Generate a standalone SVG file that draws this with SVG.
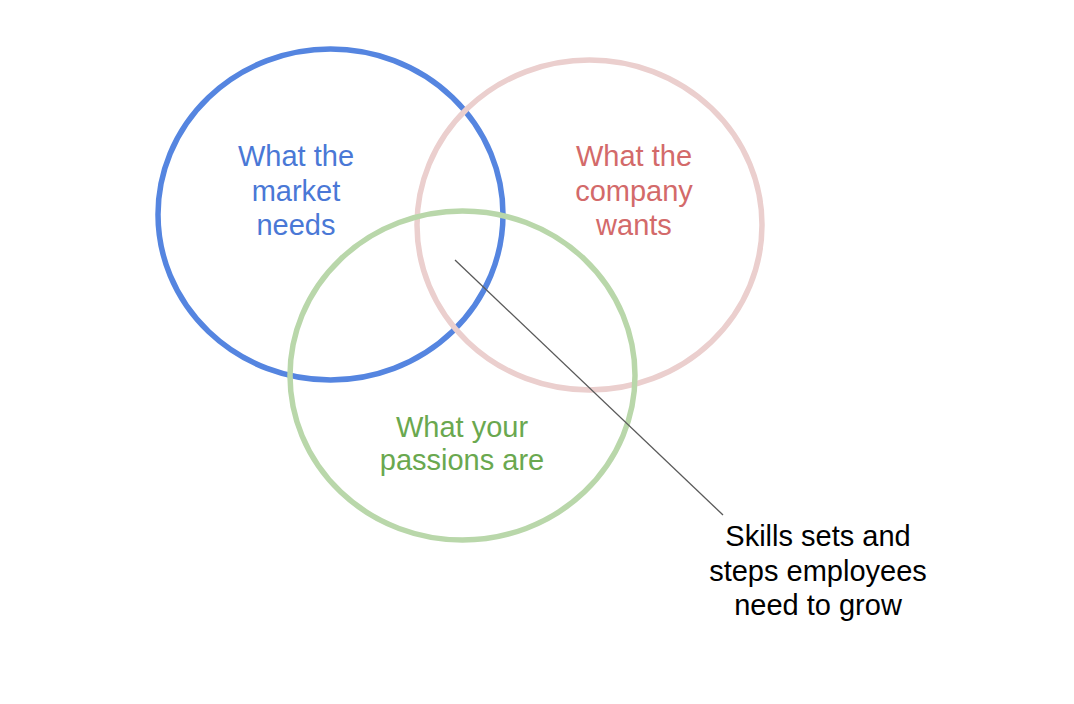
<svg xmlns="http://www.w3.org/2000/svg" width="1074" height="704" viewBox="0 0 1074 704">
  <style>
    .ring { fill: none; stroke-width: 5.5; }
    .lbl { font-family: "Liberation Sans", Arial, sans-serif; font-size: 29px; text-anchor: middle; }
    .conn { stroke: #595959; stroke-width: 1.3; fill: none; }
  </style>
  <rect width="1074" height="704" fill="#ffffff"/>
  <g id="market">
    <ellipse class="ring" cx="330.5" cy="214.5" rx="172.5" ry="165.5" stroke="#5585e0"/>
    <text class="lbl" fill="#4a78d6" x="296" y="165.5">What the</text>
    <text class="lbl" fill="#4a78d6" x="296" y="200.5">market</text>
    <text class="lbl" fill="#4a78d6" x="296" y="235">needs</text>
  </g>
  <g id="company">
    <ellipse class="ring" cx="589.5" cy="225" rx="172.5" ry="165" stroke="#ebcfce"/>
    <text class="lbl" fill="#d36a6a" x="634" y="166">What the</text>
    <text class="lbl" fill="#d36a6a" x="634" y="200.5">company</text>
    <text class="lbl" fill="#d36a6a" x="634" y="235">wants</text>
  </g>
  <g id="passions">
    <ellipse class="ring" cx="462.5" cy="375.5" rx="172.5" ry="164.5" stroke="#b9d7aa"/>
    <text class="lbl" fill="#6aa84f" x="462" y="436.5">What your</text>
    <text class="lbl" fill="#6aa84f" x="462" y="470">passions are</text>
  </g>
  <g id="connectors">
    <line class="conn" x1="455" y1="260" x2="723" y2="515"/>
  </g>
  <g id="skills">
    <text class="lbl" fill="#000000" x="818" y="546">Skills sets and</text>
    <text class="lbl" fill="#000000" x="818" y="580.5">steps employees</text>
    <text class="lbl" fill="#000000" x="818" y="615">need to grow</text>
  </g>
</svg>
